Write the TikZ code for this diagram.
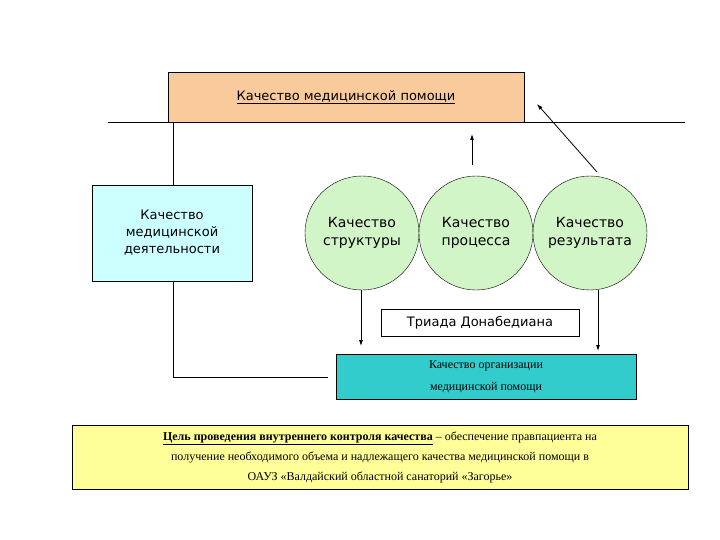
\documentclass[tikz,border=0pt]{standalone}
\usepackage{fontspec}
\setmainfont{Liberation Serif}
\newfontfamily\sansf{DejaVu Sans}
\usetikzlibrary{arrows.meta}
\definecolor{peach}{HTML}{F9CB9C}
\definecolor{lcyan}{HTML}{CCFFFF}
\definecolor{lgreen}{HTML}{D2F5C8}
\definecolor{teal2}{HTML}{33CCCC}
\definecolor{lyellow}{HTML}{FFFF99}
\tikzset{
  boxs/.style={draw, thin, align=center, inner sep=0pt},
  circ/.style={draw, thin, circle, fill=lgreen, minimum size=114pt, inner sep=0pt, align=center, font=\sansf\fontsize{14}{18}\selectfont},
  arr/.style={-{Latex[length=6pt,width=4pt]}, thick},
  ln/.style={thin}
}
\begin{document}
\begin{tikzpicture}[x=1pt,y=-1pt]
\useasboundingbox (0,0) rectangle (720,540);
\coordinate (hl) at (108,122);
\coordinate (hr) at (685,122);
\draw[ln] (hl) -- (hr);
\node[boxs, fill=peach, minimum width=356pt, minimum height=50pt, font=\sansf\fontsize{13}{16}\selectfont] (top) at (346,97) {\underline{Качество медицинской помощи}};
\node[boxs, fill=lcyan, minimum width=160pt, minimum height=96pt, font=\sansf\fontsize{13}{17}\selectfont] (act) at (172,233) {Качество\\медицинской\\деятельности};
\node[circ] (c1) at (362,233) {Качество\\структуры};
\node[circ] (c2) at (476,233) {Качество\\процесса};
\node[circ] (c3) at (590,233) {Качество\\результата};
\node[boxs, fill=white, minimum width=198pt, minimum height=27pt, font=\sansf\fontsize{13}{16}\selectfont] (tri) at (480,323) {Триада Донабедиана};
\node[boxs, fill=teal2, minimum width=300pt, minimum height=45pt, font=\fontsize{12}{22}\selectfont] (org) at (486,377) {Качество организации\\медицинской помощи};
\node[boxs, fill=lyellow, minimum width=616pt, minimum height=64pt, font=\fontsize{12}{20}\selectfont] (goal) at (380,457) {\textbf{\underline{Цель проведения внутреннего контроля качества}} – обеспечение правпациента на\\получение необходимого объема и надлежащего качества медицинской помощи в\\ОАУЗ «Валдайский областной санаторий «Загорье»};
\coordinate (a1) at (173,122);
\coordinate (a2) at (173,377);
\coordinate (a3) at (328,377);
\draw[ln] (a1) -- (act.north -| a1);
\draw[ln] (act.south -| a1) -- (a2) -- (a3);
\coordinate (u1) at (472,165);
\coordinate (u2) at (472,134);
\draw[arr] (u1) -- (u2);
\coordinate (d1) at (597,172);
\coordinate (d2) at (537,104);
\draw[arr] (d1) -- (d2);
\coordinate (s1) at (361,290);
\coordinate (s2) at (361,346);
\draw[arr] (s1) -- (s2);
\coordinate (r1) at (598,290);
\coordinate (r2) at (598,351);
\draw[arr] (r1) -- (r2);
\end{tikzpicture}
\end{document}
